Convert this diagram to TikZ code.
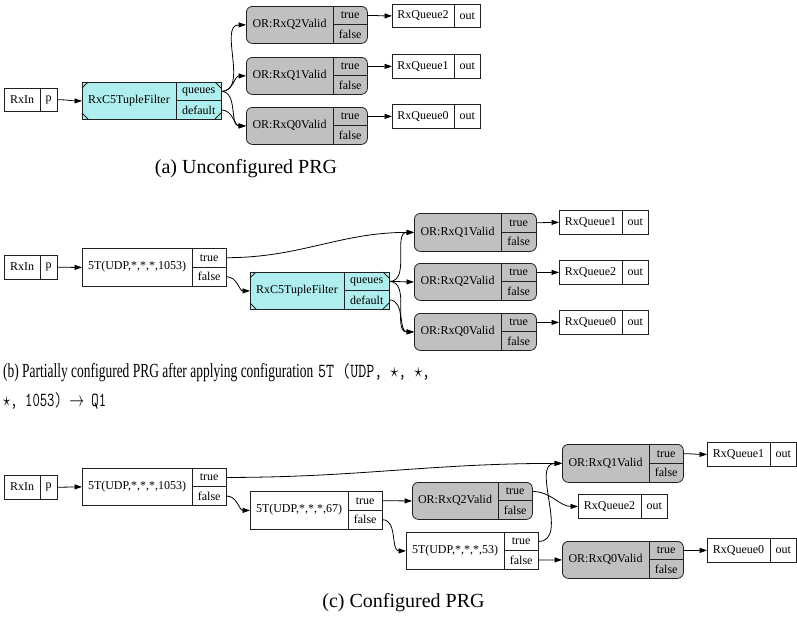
\documentclass[tikz,border=0pt]{standalone}
\usepackage{fontspec}
\setmainfont{Liberation Serif}
\usepackage{graphicx}
\usetikzlibrary{arrows.meta}

\definecolor{fltfill}{HTML}{AFEEEE}
\definecolor{orfill}{HTML}{C0C0C0}
\definecolor{boxline}{HTML}{202020}

\tikzset{
  recshape/.style={draw=boxline, line width=0.8pt, inner sep=0pt, anchor=north west},
  plainrec/.style={fill=white},
  orrec/.style={fill=orfill, rounded corners=6pt},
  fltrec/.style={fill=fltfill},
  portcell/.style={inner sep=0pt, anchor=north west, font=\fontsize{12}{14}\selectfont},
  txt/.style={inner sep=0pt, font=\fontsize{12}{14}\selectfont},
  capt/.style={inner sep=0pt, font=\fontsize{20}{24}\selectfont},
  divider/.style={draw=boxline, line width=0.8pt},
  edge/.style={line width=0.8pt, -{Triangle[length=7.5pt,width=5pt]}, out=0, in=180}
}

% two stacked port cells to the right of a record
\newcommand\portcells[7]{%
  \node[portcell, minimum width={(#3-#2)*1pt}, minimum height={(#5-#4)*0.5pt}] (#1-a) at (#2,#4) {#6};
  \node[portcell, minimum width={(#3-#2)*1pt}, minimum height={(#5-#4)*0.5pt}] (#1-b) at (#2,{(#4+#5)/2}) {#7};
}
% record: name, style, x0, xdiv, x1, ytop, ybottom, label, {port}{port}
\newcommand\tworecord[9]{%
  \node[recshape, #2, minimum width={(#5-#3)*1pt}, minimum height={(#7-#6)*1pt}] (#1) at (#3,#6) {};
  \draw[divider] (#4,#6) -- (#4,#7) (#4,{(#6+#7)/2}) -- (#5,{(#6+#7)/2});
  \node[txt] (#1-l) at ({(#3+#4)/2},{(#6+#7)/2}) {#8};
  \portcells{#1}{#4}{#5}{#6}{#7}#9%
}
% filter record with cut corners
\newcommand\fltrecord[7]{%
  \tworecord{#1}{fltrec}{#2}{#3}{#4}{#5}{#6}{#7}{{queues}{default}}
  \draw[divider] (#2,{#5+6}) -- ({#2+6},#5) (#2,{#6-6}) -- ({#2+6},#6)
                 ({#4-6},#5) -- (#4,{#5+6}) ({#4-6},#6) -- (#4,{#6-6});
}
% record with a single port: name, x0, xdiv, x1, ytop, ybottom, label, port
\newcommand\onerecord[8]{%
  \node[recshape, plainrec, minimum width={(#4-#2)*1pt}, minimum height={(#6-#5)*1pt}] (#1) at (#2,#5) {};
  \draw[divider] (#3,#5) -- (#3,#6);
  \node[txt] (#1-l) at ({(#2+#3)/2},{(#5+#6)/2}) {#7};
  \node[portcell, minimum width={(#4-#3)*1pt}, minimum height={(#6-#5)*1pt}] (#1-p) at (#3,#5) {#8};
}

\begin{document}
\begin{tikzpicture}[x=1pt, y=-1pt]
\useasboundingbox (0,0) rectangle (797,616);

% ---------------- (a) unconfigured graph
\onerecord{ain}{4}{40}{57}{88}{111}{RxIn}{p}
\fltrecord{aflt}{82}{176}{221}{82}{119}{RxC5TupleFilter}
\tworecord{aor2}{orrec}{246}{333}{367}{6}{43}{OR:RxQ2Valid}{{true}{false}}
\tworecord{aor1}{orrec}{246}{333}{367}{57}{94}{OR:RxQ1Valid}{{true}{false}}
\tworecord{aor0}{orrec}{246}{333}{367}{107}{144}{OR:RxQ0Valid}{{true}{false}}
\onerecord{aq2}{392}{454}{480}{4}{27}{RxQueue2}{out}
\onerecord{aq1}{392}{454}{480}{54}{78}{RxQueue1}{out}
\onerecord{aq0}{392}{454}{480}{104}{128}{RxQueue0}{out}

\draw[edge] (ain-p.east) to (aflt.west);
\draw[edge] (aflt-a.east) to (aor2.west);
\draw[edge] (aflt-a.east) to (aor1.west);
\draw[edge] (aflt-a.east) to (aor0.west);
\draw[edge] (aflt-b.east) to (aor0.west);
\draw[edge] (aor2-a.east) to (aq2.west);
\draw[edge] (aor1-a.east) to (aq1.west);
\draw[edge] (aor0-a.east) to (aq0.west);

\node[capt, anchor=base] (capa) at (246,173) {(a) Unconfigured PRG};

% ---------------- (b) partially configured graph
\onerecord{bin}{4}{40}{57}{255}{279}{RxIn}{p}
\tworecord{bt1}{plainrec}{82}{192}{226}{248}{286}{5T(UDP,*,*,*,1053)}{{true}{false}}
\fltrecord{bflt}{250}{344}{389}{272}{309}{RxC5TupleFilter}
\tworecord{bor1}{orrec}{414}{501}{536}{213}{251}{OR:RxQ1Valid}{{true}{false}}
\tworecord{bor2}{orrec}{414}{501}{536}{263}{300}{OR:RxQ2Valid}{{true}{false}}
\tworecord{bor0}{orrec}{414}{501}{536}{313}{350}{OR:RxQ0Valid}{{true}{false}}
\onerecord{bq1}{559}{622}{648}{210}{234}{RxQueue1}{out}
\onerecord{bq2}{559}{622}{648}{260}{284}{RxQueue2}{out}
\onerecord{bq0}{559}{622}{648}{310}{334}{RxQueue0}{out}

\draw[edge] (bin-p.east) to (bt1.west);
\draw[edge] (bt1-a.east) to (bor1.west);
\draw[edge] (bt1-b.east) to (bflt.west);
\draw[edge] (bflt-a.east) to (bor1.west);
\draw[edge] (bflt-a.east) to (bor2.west);
\draw[edge] (bflt-a.east) to (bor0.west);
\draw[edge] (bflt-b.east) to (bor0.west);
\draw[edge] (bor1-a.east) to (bq1.west);
\draw[edge] (bor2-a.east) to (bq2.west);
\draw[edge] (bor0-a.east) to (bq0.west);

\node[capt, anchor=base west] (capb1) at (3,377)
  {\resizebox{310pt}{\height}{(b) Partially configured PRG after applying configuration}};
\node[capt, anchor=base west] (capb2) at (318,377)
  {\resizebox{112pt}{\height}{\ttfamily 5T (UDP, $\star$, $\star$,}};
\node[capt, anchor=base west] (capb3) at (3,406)
  {\resizebox{103pt}{\height}{\ttfamily $\star$, 1053) $\rightarrow$ Q1}};

% ---------------- (c) configured graph
\onerecord{cin}{4}{40}{57}{475}{499}{RxIn}{p}
\tworecord{ct1}{plainrec}{82}{192}{226}{468}{505}{5T(UDP,*,*,*,1053)}{{true}{false}}
\tworecord{ct2}{plainrec}{250}{348}{382}{491}{529}{5T(UDP,*,*,*,67)}{{true}{false}}
\tworecord{ct3}{plainrec}{406}{504}{538}{532}{569}{5T(UDP,*,*,*,53)}{{true}{false}}
\tworecord{cor2}{orrec}{412}{498}{532}{482}{519}{OR:RxQ2Valid}{{true}{false}}
\tworecord{cor1}{orrec}{562}{649}{683}{444}{482}{OR:RxQ1Valid}{{true}{false}}
\tworecord{cor0}{orrec}{562}{649}{683}{541}{578}{OR:RxQ0Valid}{{true}{false}}
\onerecord{cq1}{707}{770}{796}{442}{466}{RxQueue1}{out}
\onerecord{cq2}{578}{641}{667}{494}{518}{RxQueue2}{out}
\onerecord{cq0}{707}{770}{796}{538}{562}{RxQueue0}{out}

\draw[edge] (cin-p.east) to (ct1.west);
\draw[edge] (ct1-a.east) to (cor1.west);
\draw[edge] (ct1-b.east) to (ct2.west);
\draw[edge] (ct2-a.east) to (cor2.west);
\draw[edge] (ct2-b.east) to (ct3.west);
\draw[edge] (ct3-a.east) to (cor1.west);
\draw[edge] (ct3-b.east) to (cor0.west);
\draw[edge] (cor2-a.east) to (cq2.west);
\draw[edge] (cor1-a.east) to (cq1.west);
\draw[edge] (cor0-a.east) to (cq0.west);

\node[capt, anchor=base] (capc) at (403.5,607) {(c) Configured PRG};
\end{tikzpicture}
\end{document}
